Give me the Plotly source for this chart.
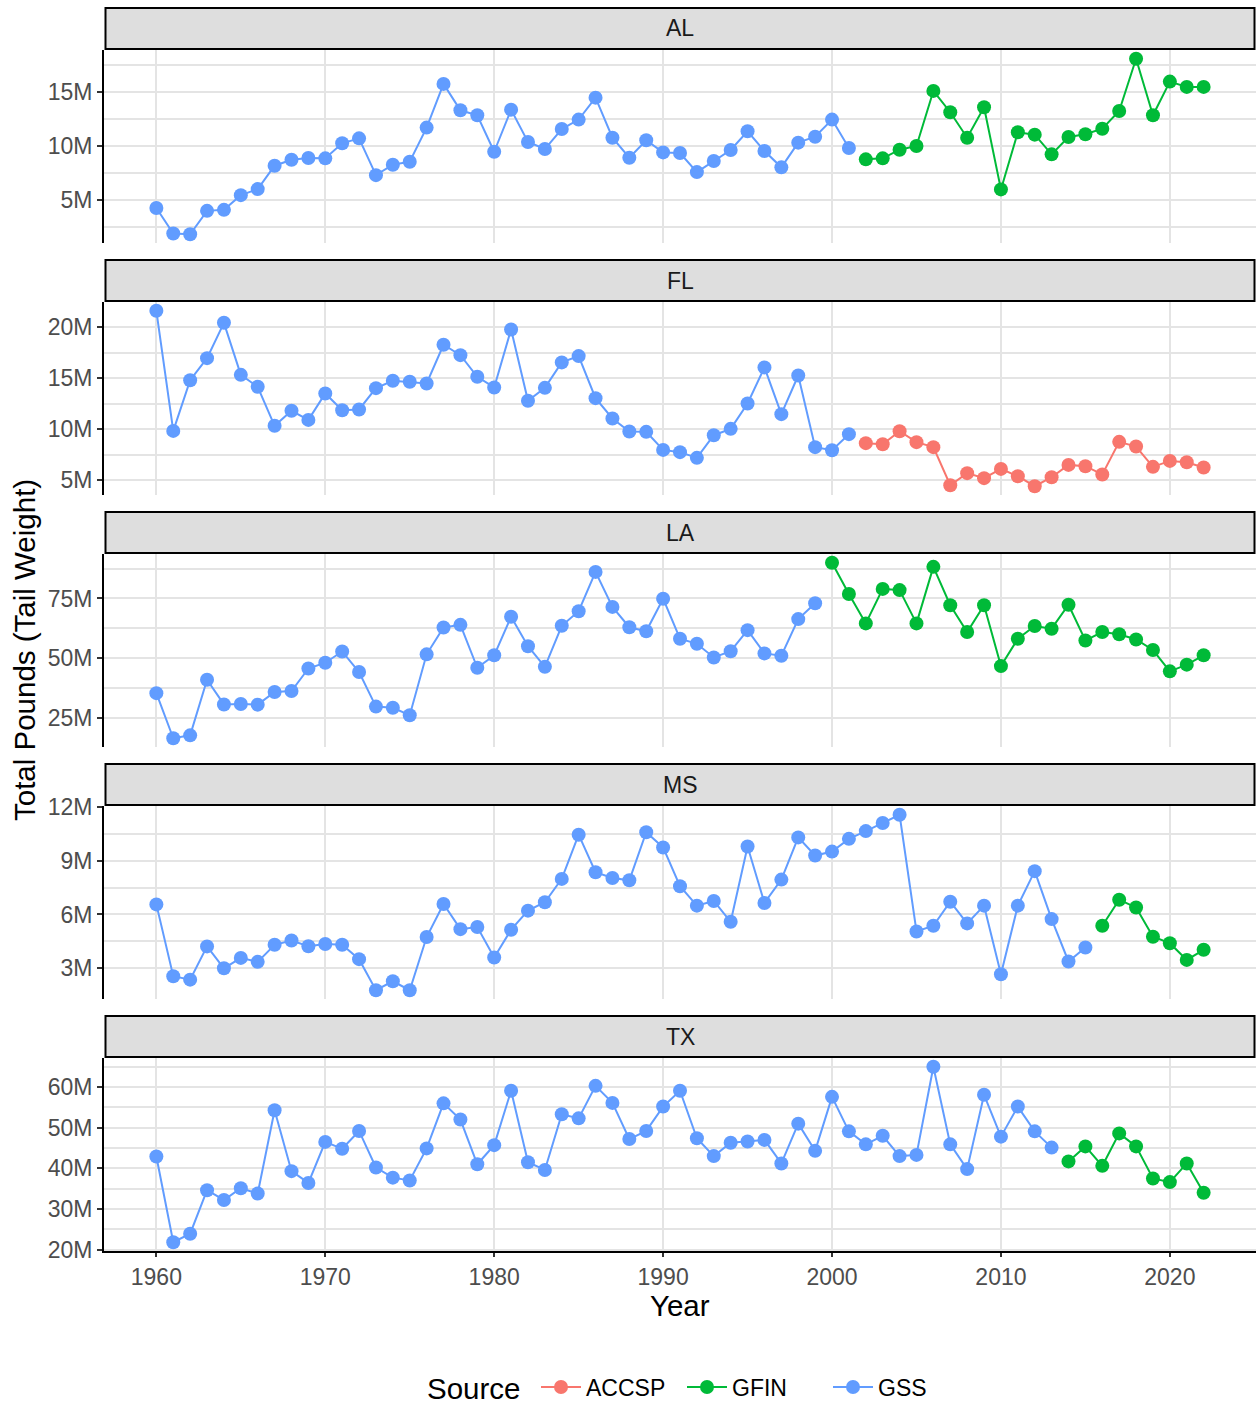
import plotly.graph_objects as go

# ---------------- data (values in millions of pounds, tail weight) ----------------
STATES = ["AL", "FL", "LA", "MS", "TX"]
SOURCES = ["ACCSP", "GFIN", "GSS"]
SOURCE_COLORS = {"ACCSP": "#F8766D", "GFIN": "#00BA38", "GSS": "#619CFF"}

AL_GSS_YEARS = list(range(1960, 2002))
AL_GSS = [4.28, 1.92, 1.85, 4.01, 4.10, 5.46, 6.02, 8.18, 8.73, 8.89,
          8.86, 10.25, 10.71, 7.31, 8.27, 8.55, 11.70, 15.74, 13.30, 12.84,
          9.47, 13.36, 10.37, 9.72, 11.57, 12.44, 14.47, 10.77, 8.92, 10.53,
          9.41, 9.35, 7.59, 8.61, 9.63, 11.36, 9.54, 8.03, 10.31, 10.86,
          12.44, 9.81]
AL_GFIN_YEARS = list(range(2002, 2023))
AL_GFIN = [8.77, 8.86, 9.66, 10.00, 15.09, 13.12, 10.77, 13.58, 5.99, 11.27,
           11.05, 9.23, 10.83, 11.08, 11.60, 13.24, 18.06, 12.84, 15.95, 15.46,
           15.46]

FL_GSS_YEARS = list(range(1960, 2002))
FL_GSS = [21.60, 9.83, 14.80, 16.96, 20.42, 15.32, 14.15, 10.33, 11.80, 10.91,
          13.50, 11.86, 11.93, 14.02, 14.74, 14.64, 14.48, 18.27, 17.25, 15.13,
          14.09, 19.77, 12.78, 14.05, 16.54, 17.16, 13.04, 11.05, 9.77, 9.74,
          7.97, 7.75, 7.19, 9.41, 10.03, 12.52, 16.05, 11.47, 15.26, 8.24,
          7.94, 9.51]
FL_ACCSP_YEARS = list(range(2002, 2023))
FL_ACCSP = [8.63, 8.53, 9.80, 8.73, 8.24, 4.51, 5.69, 5.20, 6.11, 5.39,
            4.41, 5.29, 6.50, 6.37, 5.56, 8.76, 8.30, 6.31, 6.89, 6.76,
            6.24]

LA_GSS_YEARS = list(range(1960, 2000))
LA_GSS = [35.5, 16.7, 17.9, 41.1, 30.8, 31.0, 30.7, 36.0, 36.4, 45.8,
          48.2, 52.9, 44.3, 29.9, 29.4, 26.3, 51.7, 62.9, 64.0, 46.1,
          51.3, 67.4, 55.1, 46.5, 63.6, 69.7, 86.1, 71.5, 63.0, 61.3,
          74.9, 58.2, 56.1, 50.4, 53.0, 61.8, 52.1, 51.1, 66.4, 73.0]
LA_GFIN_YEARS = list(range(2000, 2023))
LA_GFIN = [89.9, 76.9, 64.6, 79.0, 78.5, 64.6, 88.2, 72.2, 61.0, 72.2,
           46.8, 58.2, 63.5, 62.4, 72.4, 57.5, 61.0, 60.1, 57.9, 53.5,
           44.6, 47.4, 51.3]

MS_GSS_YEARS = list(range(1960, 2016))
MS_GSS = [6.56, 2.56, 2.37, 4.22, 3.00, 3.58, 3.36, 4.31, 4.55, 4.23,
          4.35, 4.31, 3.51, 1.78, 2.28, 1.78, 4.74, 6.58, 5.18, 5.30,
          3.60, 5.15, 6.21, 6.68, 7.98, 10.44, 8.35, 8.03, 7.90, 10.58,
          9.73, 7.57, 6.49, 6.75, 5.59, 9.78, 6.64, 7.94, 10.29, 9.28,
          9.50, 10.21, 10.64, 11.09, 11.55, 5.05, 5.37, 6.71, 5.50, 6.49,
          2.67, 6.49, 8.41, 5.74, 3.38, 4.16]
MS_GFIN_YEARS = list(range(2016, 2023))
MS_GFIN = [5.37, 6.82, 6.39, 4.76, 4.40, 3.47, 4.03]

TX_GSS_YEARS = list(range(1960, 2014))
TX_GSS = [42.9, 21.8, 23.9, 34.6, 32.2, 35.1, 33.8, 54.3, 39.3, 36.4,
          46.5, 44.8, 49.2, 40.2, 37.7, 37.0, 44.9, 56.0, 52.0, 41.0,
          45.7, 59.1, 41.5, 39.6, 53.3, 52.3, 60.3, 56.1, 47.2, 49.2,
          55.2, 59.1, 47.4, 43.0, 46.3, 46.6, 47.0, 41.2, 51.0, 44.3,
          57.6, 49.1, 45.9, 48.0, 43.0, 43.3, 65.0, 45.9, 39.8, 58.1,
          47.8, 55.2, 49.1, 45.1]
TX_GFIN_YEARS = list(range(2014, 2023))
TX_GFIN = [41.7, 45.4, 40.6, 48.6, 45.4, 37.5, 36.6, 41.2, 34.0]

SERIES = {
    "AL": [("GSS", AL_GSS_YEARS, AL_GSS), ("GFIN", AL_GFIN_YEARS, AL_GFIN)],
    "FL": [("GSS", FL_GSS_YEARS, FL_GSS), ("ACCSP", FL_ACCSP_YEARS, FL_ACCSP)],
    "LA": [("GSS", LA_GSS_YEARS, LA_GSS), ("GFIN", LA_GFIN_YEARS, LA_GFIN)],
    "MS": [("GSS", MS_GSS_YEARS, MS_GSS), ("GFIN", MS_GFIN_YEARS, MS_GFIN)],
    "TX": [("GSS", TX_GSS_YEARS, TX_GSS), ("GFIN", TX_GFIN_YEARS, TX_GFIN)],
}

Y_TICKS = {"AL": [5, 10, 15], "FL": [5, 10, 15, 20], "LA": [25, 50, 75],
           "MS": [3, 6, 9, 12], "TX": [20, 30, 40, 50, 60]}
Y_MINOR = {"AL": [2.5, 7.5, 12.5, 17.5], "FL": [7.5, 12.5, 17.5],
           "LA": [37.5, 62.5, 87.5], "MS": [4.5, 7.5, 10.5],
           "TX": [25, 35, 45, 55, 65]}
X_TICKS = [1960, 1970, 1980, 1990, 2000, 2010, 2020]

# ---------------- layout constants ----------------
W, H = 1256, 1403
FONT = "Liberation Sans, Arial, sans-serif"
GRID = "#E4E4E4"
PLOT_L, PLOT_R = 104, 1256
TOP0, STRIP_H, PANEL_H, PERIOD = 8, 41, 193, 252
TICK_FS, TITLE_FS = 23, 29.5
LEGEND_Y = 1387


def px_x(p):
    return p / W


def px_y(p):
    return 1 - p / H


all_years = [y for st in STATES for _, yrs, _ in SERIES[st] for y in yrs]
xmin, xmax = min(all_years), max(all_years)
xpad = (xmax - xmin) * 0.05
x_range = [xmin - xpad, xmax + xpad]

fig = go.Figure()
shapes, annotations = [], []
legend_shown = set()
rank = {s: i for i, s in enumerate(SOURCES)}

for i, st in enumerate(STATES):
    n = i + 1
    xa = "x" if n == 1 else f"x{n}"
    ya = "y" if n == 1 else f"y{n}"
    strip_top = TOP0 + i * PERIOD
    panel_top = strip_top + STRIP_H + 1
    panel_bot = panel_top + PANEL_H

    vals = []
    for src, yrs, v in SERIES[st]:
        vals += v
        fig.add_trace(go.Scatter(
            x=yrs, y=v, mode="lines+markers", name=src,
            legendgroup=src, showlegend=src not in legend_shown,
            legendrank=rank[src] + 1,
            line=dict(color=SOURCE_COLORS[src], width=2),
            marker=dict(color=SOURCE_COLORS[src], size=14),
            xaxis=xa, yaxis=ya))
        legend_shown.add(src)

    vmin, vmax = min(vals), max(vals)
    pad = (vmax - vmin) * 0.05
    is_bottom = (i == len(STATES) - 1)

    fig.layout[("xaxis" if n == 1 else f"xaxis{n}")] = dict(
        domain=[px_x(PLOT_L), 1], anchor=ya, range=x_range,
        tickvals=X_TICKS, showgrid=True, gridcolor=GRID, gridwidth=1.8,
        zeroline=False, showticklabels=is_bottom,
        showline=is_bottom, linecolor="black", linewidth=2,
        ticks="outside" if is_bottom else "", ticklen=4, tickcolor="#333333",
        tickwidth=1.5,
        tickfont=dict(family=FONT, size=TICK_FS, color="#4D4D4D"),
        matches=None if n == 1 else "x")
    fig.layout[("yaxis" if n == 1 else f"yaxis{n}")] = dict(
        domain=[px_y(panel_bot), px_y(panel_top)], anchor=xa,
        range=[vmin - pad, vmax + pad],
        tickvals=Y_TICKS[st], ticktext=[f"{t:g}M" for t in Y_TICKS[st]],
        showgrid=True, gridcolor=GRID, gridwidth=1.8, zeroline=False,
        minor=dict(tickvals=Y_MINOR[st], showgrid=True, gridcolor=GRID,
                   gridwidth=1.6, ticks=""),
        showline=True, linecolor="black", linewidth=2,
        ticks="outside", ticklen=5, tickcolor="#333333", tickwidth=1.5,
        tickfont=dict(family=FONT, size=TICK_FS, color="#4D4D4D"))

    # facet strip
    shapes.append(dict(type="rect", xref="paper", yref="paper",
                       x0=px_x(PLOT_L + 1.5), x1=px_x(PLOT_R - 1.5),
                       y0=px_y(strip_top + STRIP_H), y1=px_y(strip_top),
                       fillcolor="#DEDEDE", line=dict(color="black", width=2),
                       layer="above"))
    annotations.append(dict(text=st, xref="paper", yref="paper",
                            x=px_x((PLOT_L + PLOT_R) / 2),
                            y=px_y(strip_top + STRIP_H / 2),
                            xanchor="center", yanchor="middle", showarrow=False,
                            font=dict(family=FONT, size=TICK_FS, color="#1A1A1A")))

last_bot = TOP0 + (len(STATES) - 1) * PERIOD + STRIP_H + 1 + PANEL_H
annotations.append(dict(text="Year", xref="paper", yref="paper",
                        x=px_x((PLOT_L + PLOT_R) / 2), y=px_y(1305),
                        xanchor="center", yanchor="middle", showarrow=False,
                        font=dict(family=FONT, size=TITLE_FS, color="black")))
annotations.append(dict(text="Total Pounds (Tail Weight)", xref="paper", yref="paper",
                        x=px_x(24), y=px_y((TOP0 + STRIP_H + last_bot) / 2),
                        xanchor="center", yanchor="middle", showarrow=False,
                        textangle=-90,
                        font=dict(family=FONT, size=TITLE_FS, color="black")))
# legend title
annotations.append(dict(text="Source", xref="paper", yref="paper",
                        x=px_x(426), y=px_y(LEGEND_Y + 1),
                        xanchor="left", yanchor="middle", showarrow=False,
                        height=26, borderpad=0,
                        font=dict(family=FONT, size=TITLE_FS, color="black")))

fig.update_layout(
    width=W, height=H, margin=dict(l=0, r=0, t=0, b=0, autoexpand=False),
    paper_bgcolor="white", plot_bgcolor="white",
    font=dict(family=FONT, color="black"),
    shapes=shapes, annotations=annotations,
    legend=dict(orientation="h", x=px_x(536), xanchor="left",
                y=px_y(LEGEND_Y), yanchor="middle", traceorder="normal",
                font=dict(family=FONT, size=TICK_FS, color="black"),
                itemwidth=40, entrywidth=91, entrywidthmode="pixels",
                bgcolor="rgba(0,0,0,0)"),
    showlegend=True,
)

fig.write_html("out.html")
